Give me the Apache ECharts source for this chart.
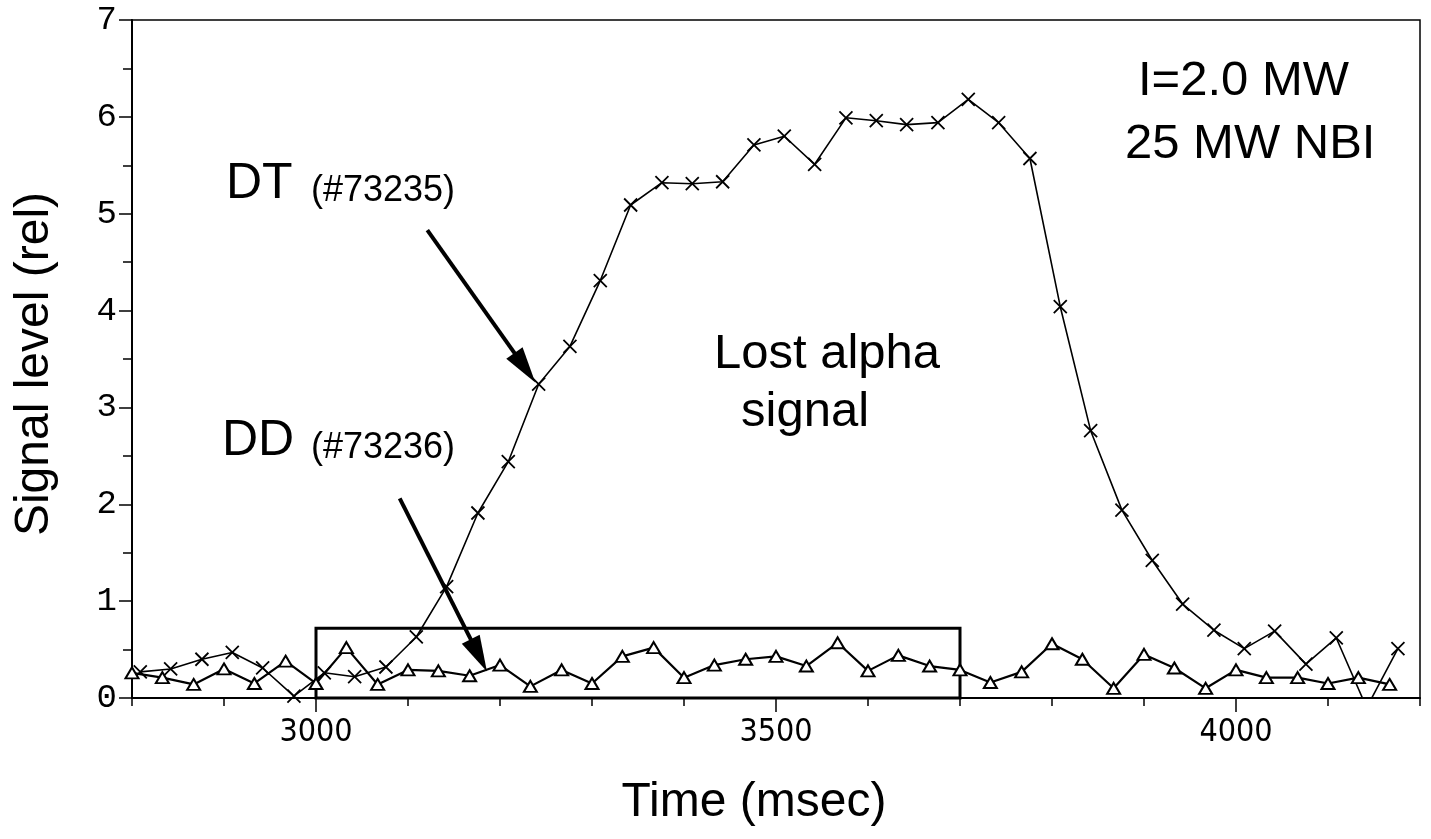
<!DOCTYPE html>
<html>
<head>
<meta charset="utf-8">
<title>Lost alpha signal</title>
<script src="https://cdn.jsdelivr.net/npm/echarts@6/dist/echarts.min.js"></script>
<style>
  html, body { margin: 0; padding: 0; background: #fff; }
  #chart { width: 1431px; height: 839px; }
</style>
</head>
<body>
<div id="chart"></div>
<script>
// DT shot #73235 (crosses) and DD shot #73236 (triangles), time in msec
const dtTime = [2809, 2842, 2876, 2909, 2942, 2976, 3009, 3042, 3076, 3109,
                3142, 3176, 3209, 3242, 3276, 3309, 3342, 3376, 3409, 3442,
                3476, 3509, 3542, 3576, 3609, 3642, 3676, 3709, 3742, 3776,
                3809, 3842, 3876, 3909, 3942, 3976, 4009, 4042, 4076, 4109,
                4142, 4176];
const dtSignal = [0.27, 0.30, 0.40, 0.47, 0.31, 0.02, 0.26, 0.22, 0.32, 0.63,
                  1.15, 1.91, 2.44, 3.24, 3.63, 4.31, 5.09, 5.32, 5.31, 5.33,
                  5.71, 5.80, 5.51, 5.99, 5.96, 5.92, 5.94, 6.18, 5.94, 5.57,
                  4.04, 2.76, 1.94, 1.42, 0.97, 0.70, 0.51, 0.69, 0.35, 0.62,
                  -0.10, 0.51];

const ddTime = [2800, 2833, 2867, 2900, 2933, 2967, 3000, 3033, 3067, 3100,
                3133, 3167, 3200, 3233, 3267, 3300, 3333, 3367, 3400, 3433,
                3467, 3500, 3533, 3567, 3600, 3633, 3667, 3700, 3733, 3767,
                3800, 3833, 3867, 3900, 3933, 3967, 4000, 4033, 4067, 4100,
                4133, 4167];
const ddSignal = [0.26, 0.21, 0.14, 0.30, 0.15, 0.38, 0.15, 0.52, 0.14, 0.29,
                  0.28, 0.23, 0.34, 0.12, 0.29, 0.15, 0.43, 0.52, 0.21, 0.34,
                  0.40, 0.43, 0.33, 0.57, 0.28, 0.44, 0.33, 0.29, 0.16, 0.27,
                  0.56, 0.40, 0.10, 0.45, 0.31, 0.10, 0.29, 0.21, 0.21, 0.15,
                  0.21, 0.14];

// axis ranges and labelled ticks
const timeRange = [2800, 4200];
const timeLabels = [3000, 3500, 4000];
const signalRange = [0, 7];

// highlighted window (time span, signal height)
const windowTime = [3000, 3700];
const windowTop = 0.72;

// pointer arrows: [start time, start signal, head time, head signal]
const dtArrow = [3121, 4.83, 3227, 3.41];
const ddArrow = [3091, 2.06, 3177, 0.44];

const textFont = '"Liberation Sans", Arial, Helvetica, sans-serif';
const black = '#000';

function pairs(xs, ys) { return xs.map((x, i) => [x, ys[i]]); }

function arrowLine(a) {
  return [
    { coord: [a[0], a[1]], symbol: 'none' },
    { coord: [a[2], a[3]], symbol: 'triangle', symbolSize: [20, 36] }
  ];
}

const chart = echarts.init(document.getElementById('chart'), null, { renderer: 'canvas' });

chart.setOption({
  animation: false,
  backgroundColor: '#fff',
  grid: {
    left: 132, right: 11, top: 20, bottom: 141,
    show: true, borderColor: black, borderWidth: 1.5, backgroundColor: 'transparent'
  },
  xAxis: [
    {
      type: 'value', min: timeRange[0], max: timeRange[1], interval: 100,
      axisLine: { lineStyle: { color: black, width: 2 } },
      axisTick: { length: 8, lineStyle: { color: black, width: 1.5 } },
      axisLabel: { show: false },
      splitLine: { show: false }
    },
    {
      type: 'value', min: timeRange[0], max: timeRange[1], interval: 100,
      position: 'bottom',
      axisLine: { show: false },
      axisTick: { customValues: timeLabels, length: 14, lineStyle: { color: black, width: 1.5 } },
      axisLabel: {
        customValues: timeLabels, margin: 19, color: black, fontSize: 32,
        fontFamily: '"Liberation Sans Narrow", "DejaVu Sans Condensed", "Liberation Sans", sans-serif',
        formatter: (v) => String(v)
      },
      splitLine: { show: false }
    }
  ],
  yAxis: {
    type: 'value', min: signalRange[0], max: signalRange[1], interval: 1,
    axisLine: { show: true, lineStyle: { color: black, width: 2 } },
    axisTick: { show: true, length: 13, lineStyle: { color: black, width: 1.5 } },
    minorTick: { show: true, splitNumber: 2, length: 9, lineStyle: { color: black, width: 1.5 } },
    axisLabel: { margin: 15, color: black, fontSize: 34, fontFamily: '"Liberation Mono", "DejaVu Sans Mono", monospace' },
    splitLine: { show: false }
  },
  series: [
    {
      name: 'DT (#73235)',
      type: 'line',
      xAxisIndex: 0,
      data: pairs(dtTime, dtSignal),
      symbol: 'path://M0,0L10,10M10,0L0,10',
      symbolSize: 13,
      showAllSymbol: true,
      clip: true,
      lineStyle: { color: black, width: 1.6 },
      itemStyle: { color: black, borderColor: black, borderWidth: 1.8 },
      markLine: {
        silent: true,
        animation: false,
        label: { show: false },
        lineStyle: { color: black, width: 4, type: 'solid' },
        itemStyle: { color: black },
        data: [arrowLine(dtArrow), arrowLine(ddArrow)]
      },
      z: 3
    },
    {
      name: 'DD (#73236)',
      type: 'line',
      xAxisIndex: 0,
      data: pairs(ddTime, ddSignal),
      symbol: 'triangle',
      symbolSize: [13, 11],
      showAllSymbol: true,
      clip: true,
      lineStyle: { color: black, width: 2.2 },
      itemStyle: { color: '#fff', borderColor: black, borderWidth: 2 },
      markArea: {
        silent: true,
        itemStyle: { color: 'rgba(0,0,0,0)', borderColor: black, borderWidth: 3 },
        data: [[{ coord: [windowTime[0], 0] }, { coord: [windowTime[1], windowTop] }]]
      },
      z: 4
    }
  ],
  graphic: [
    { type: 'text', x: 35, y: 364, rotation: Math.PI / 2,
      style: { text: 'Signal level (rel)', font: '48px ' + textFont, fill: black, align: 'center', verticalAlign: 'middle' } },
    { type: 'text', x: 754, y: 803,
      style: { text: 'Time (msec)', font: '48px ' + textFont, fill: black, align: 'center', verticalAlign: 'middle' } },
    { type: 'text', x: 226, y: 184,
      style: { text: 'DT', font: '50px ' + textFont, fill: black, align: 'left', verticalAlign: 'middle' } },
    { type: 'text', x: 311, y: 191,
      style: { text: '(#73235)', font: '36px ' + textFont, fill: black, align: 'left', verticalAlign: 'middle' } },
    { type: 'text', x: 222, y: 441,
      style: { text: 'DD', font: '50px ' + textFont, fill: black, align: 'left', verticalAlign: 'middle' } },
    { type: 'text', x: 311, y: 448,
      style: { text: '(#73236)', font: '36px ' + textFont, fill: black, align: 'left', verticalAlign: 'middle' } },
    { type: 'text', x: 714, y: 354,
      style: { text: 'Lost alpha', font: '49px ' + textFont, fill: black, align: 'left', verticalAlign: 'middle' } },
    { type: 'text', x: 741, y: 412,
      style: { text: 'signal', font: '49px ' + textFont, fill: black, align: 'left', verticalAlign: 'middle' } },
    { type: 'text', x: 1138, y: 81,
      style: { text: 'I=2.0 MW', font: '49px ' + textFont, fill: black, align: 'left', verticalAlign: 'middle' } },
    { type: 'text', x: 1125, y: 144,
      style: { text: '25 MW NBI', font: '49px ' + textFont, fill: black, align: 'left', verticalAlign: 'middle' } }
  ]
});
</script>
</body>
</html>
